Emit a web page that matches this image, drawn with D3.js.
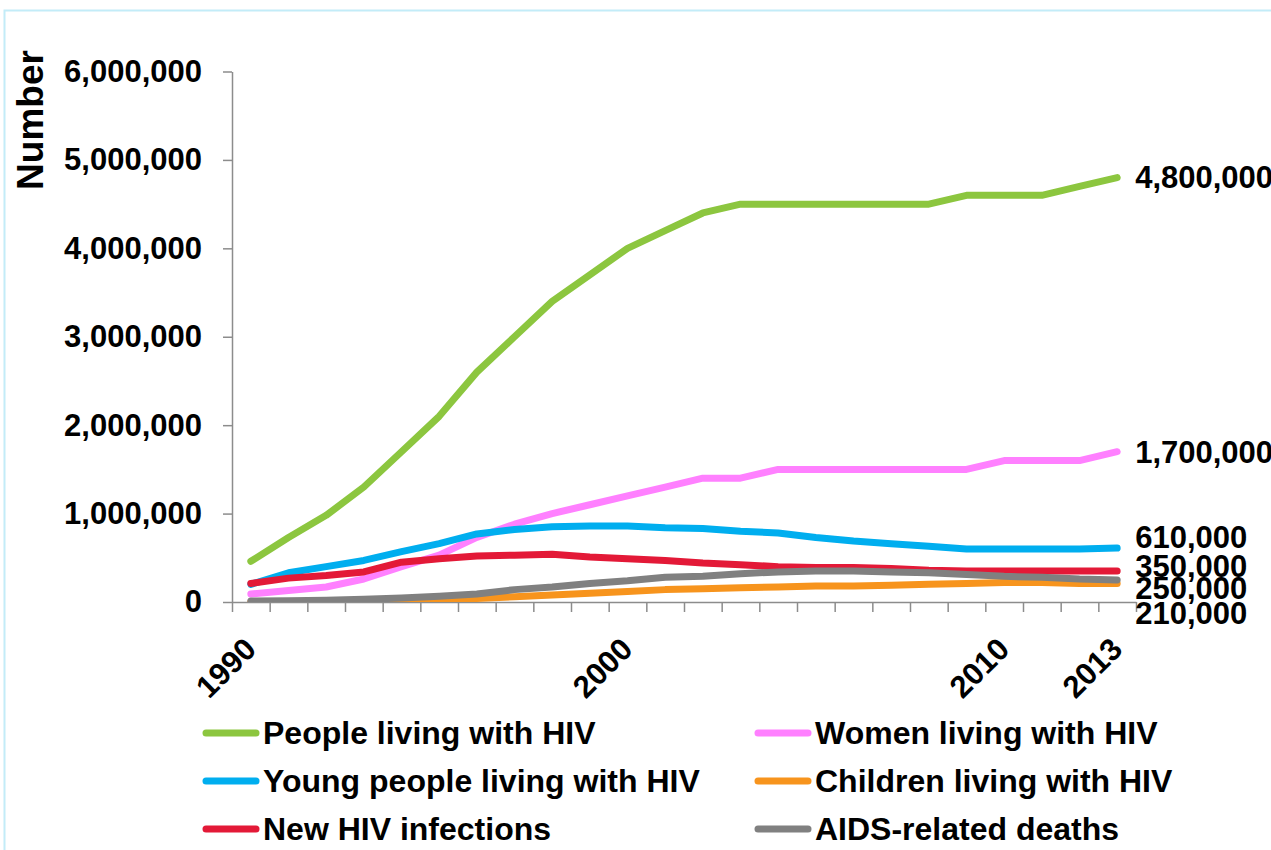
<!DOCTYPE html>
<html>
<head>
<meta charset="utf-8">
<script src="https://cdn.jsdelivr.net/npm/d3@7"></script>
<style>
  html, body { margin: 0; padding: 0; background: #ffffff; }
  svg { display: block; }
  text { font-family: "Liberation Sans", Arial, sans-serif; font-weight: bold; fill: #000; }
</style>
</head>
<body>
<svg id="chart" width="1271" height="850"></svg>
<script>
// HIV estimates, 1990-2013
const years = d3.range(1990, 2014).map(String);
const yearLabels = ["1990", "2000", "2010", "2013"];
const yTicks = [0, 1000000, 2000000, 3000000, 4000000, 5000000, 6000000];

const seriesNames = [
  "People living with HIV",
  "Women living with HIV",
  "Young people living with HIV",
  "Children living with HIV",
  "New HIV infections",
  "AIDS-related deaths"
];

const peopleLiving = [460000, 730000, 980000, 1300000, 1700000, 2100000, 2600000, 3000000, 3400000, 3700000, 4000000, 4200000,
  4400000, 4500000, 4500000, 4500000, 4500000, 4500000, 4500000, 4600000, 4600000, 4600000, 4700000, 4800000];
const womenLiving = [90000, 130000, 170000, 260000, 400000, 530000, 730000, 880000, 1000000, 1100000, 1200000, 1300000,
  1400000, 1400000, 1500000, 1500000, 1500000, 1500000, 1500000, 1500000, 1600000, 1600000, 1600000, 1700000];
const youngLiving = [200000, 330000, 400000, 470000, 570000, 660000, 770000, 820000, 850000, 860000, 860000, 840000,
  830000, 800000, 780000, 730000, 690000, 660000, 630000, 600000, 600000, 600000, 600000, 610000];
const childrenLiving = [0, 0, 0, 5000, 10000, 20000, 40000, 60000, 80000, 100000, 120000, 140000,
  150000, 160000, 170000, 180000, 180000, 190000, 200000, 210000, 220000, 220000, 210000, 210000];
const newInfections = [210000, 270000, 300000, 340000, 450000, 490000, 520000, 530000, 540000, 510000, 490000, 470000,
  440000, 420000, 400000, 390000, 390000, 380000, 360000, 350000, 350000, 350000, 350000, 350000];
const aidsDeaths = [10000, 15000, 20000, 30000, 45000, 65000, 90000, 140000, 170000, 210000, 240000, 280000,
  290000, 320000, 340000, 350000, 350000, 340000, 330000, 310000, 290000, 280000, 260000, 250000];

const seriesValues = [peopleLiving, womenLiving, youngLiving, childrenLiving, newInfections, aidsDeaths];
const seriesColors = ["#8CC63F", "#FF80FF", "#00AEEF", "#F7941D", "#E31937", "#808080"];

const svg = d3.select("#chart");

// outer frame
svg.append("rect")
  .attr("x", 4.5).attr("y", 10.5)
  .attr("width", 1300).attr("height", 900)
  .attr("fill", "none").attr("stroke", "#c3ecf8").attr("stroke-width", 2);

const plot = { left: 232, right: 1136, top: 71.5, bottom: 602 };

const x = d3.scaleBand().domain(years).range([plot.left, plot.right]).padding(0);
const xEdge = d3.scaleLinear().domain([0, years.length]).range([plot.left, plot.right]);
const y = d3.scaleLinear().domain([0, 6000000]).range([plot.bottom, plot.top]);
const cx = yr => x(yr) + x.bandwidth() / 2;

// y axis
const yAxis = svg.append("g")
  .attr("transform", `translate(${plot.left},0)`)
  .call(d3.axisLeft(y).tickValues(yTicks).tickFormat(d3.format(",")).tickSize(9).tickSizeOuter(0).tickPadding(21));
yAxis.select(".domain").attr("stroke", "#8c8c8c").attr("stroke-width", 1.5);
yAxis.selectAll(".tick line").attr("stroke", "#8c8c8c").attr("stroke-width", 1.5);
yAxis.selectAll(".tick text").attr("font-size", 31).attr("font-family", "Liberation Sans, Arial, sans-serif")
  .attr("font-weight", "bold").attr("fill", "#000");

// x axis: tick marks on category boundaries
const xAxis = svg.append("g")
  .attr("transform", `translate(0,${plot.bottom})`)
  .call(d3.axisBottom(xEdge).tickValues(d3.range(0, years.length + 1)).tickFormat("").tickSize(10).tickSizeOuter(0));
xAxis.select(".domain").attr("stroke", "#8c8c8c").attr("stroke-width", 1.5);
xAxis.selectAll(".tick line").attr("stroke", "#8c8c8c").attr("stroke-width", 1.5);

// rotated year labels
svg.append("g").selectAll("text")
  .data(yearLabels)
  .join("text")
  .attr("transform", d => `translate(${cx(d) + 7},651) rotate(-45)`)
  .attr("text-anchor", "end")
  .attr("font-size", 31)
  .text(d => d);

// axis title
svg.append("text")
  .attr("transform", "translate(43,120) rotate(-90)")
  .attr("text-anchor", "middle")
  .attr("font-size", 37)
  .text("Number");

// lines
svg.append("clipPath").attr("id", "plotClip")
  .append("rect")
  .attr("x", plot.left).attr("y", plot.top - 20)
  .attr("width", plot.right - plot.left).attr("height", plot.bottom - plot.top + 20);

const line = d3.line()
  .x((d, i) => cx(years[i]))
  .y(d => y(d));

svg.append("g").attr("clip-path", "url(#plotClip)")
  .selectAll("path")
  .data(seriesValues)
  .join("path")
  .attr("d", d => line(d))
  .attr("fill", "none")
  .attr("stroke", (d, i) => seriesColors[i])
  .attr("stroke-width", 7)
  .attr("stroke-linejoin", "round")
  .attr("stroke-linecap", "round");

// end-of-line value labels, nudged apart where they crowd together
const labelNudge = [0, 0, -11, 30, -5, 8];
const lastIdx = years.length - 1;
svg.append("g").selectAll("text")
  .data(seriesValues)
  .join("text")
  .attr("x", cx(years[lastIdx]) + 18)
  .attr("y", (d, i) => y(d[lastIdx]) + labelNudge[i])
  .attr("dy", "0.35em")
  .attr("font-size", 31)
  .text(d => d3.format(",")(d[lastIdx]));

// legend: two columns, three rows
const legendCols = [206, 758];
const legendRows = [733, 781, 829];
const legend = svg.append("g").selectAll("g")
  .data(seriesNames)
  .join("g")
  .attr("transform", (d, i) => `translate(${legendCols[i % 2]},${legendRows[Math.floor(i / 2)]})`);
legend.append("line")
  .attr("x1", 0).attr("x2", 50)
  .attr("stroke", (d, i) => seriesColors[i])
  .attr("stroke-width", 7)
  .attr("stroke-linecap", "round");
legend.append("text")
  .attr("x", 57)
  .attr("dy", "0.35em")
  .attr("font-size", 32)
  .text(d => d);
</script>
</body>
</html>
